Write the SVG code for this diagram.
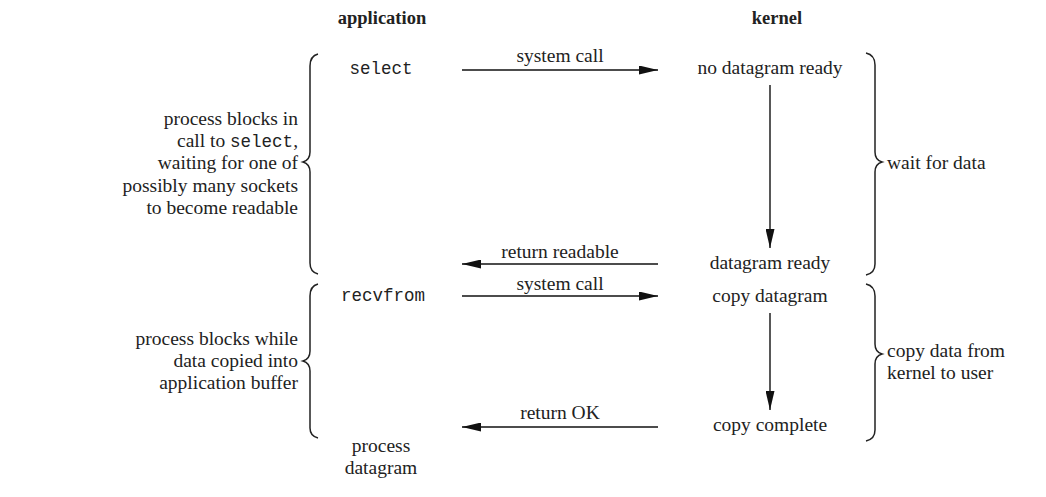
<svg xmlns="http://www.w3.org/2000/svg" width="1046" height="497" viewBox="0 0 1046 497">
<style>
text{font-family:"Liberation Serif","DejaVu Serif",serif;font-size:19.5px;fill:#222;}
.b{font-weight:bold;font-size:18.5px;}
.m{font-family:"Liberation Mono",monospace;font-size:17.5px;}
.r{text-anchor:end;}
.c{text-anchor:middle;}
.ln{stroke:#111;stroke-width:1.4;fill:none;}
.br{stroke:#222;stroke-width:1.5;fill:none;}
</style>
<defs>
<marker id="ah" markerWidth="19" markerHeight="9" refX="19" refY="4.5" orient="auto" markerUnits="userSpaceOnUse">
<path d="M0,0 L19,4.5 L0,9 Z" fill="#111"/>
</marker>
</defs>
<rect width="1046" height="497" fill="#fff"/>
<g id="headers">
<text class="b c" x="382" y="24">application</text>
<text class="b c" x="777" y="24">kernel</text>
</g>
<g id="select"><text class="m c" x="381" y="74">select</text></g>
<g id="recvfrom"><text class="m c" x="383" y="301">recvfrom</text></g>
<g id="process-datagram"><text class="c" x="381" y="452">process</text><text class="c" x="381" y="474">datagram</text></g>
<g id="no-datagram-ready"><text class="c" x="770" y="74">no datagram ready</text></g>
<g id="datagram-ready"><text class="c" x="770" y="269">datagram ready</text></g>
<g id="copy-datagram"><text class="c" x="770" y="302">copy datagram</text></g>
<g id="copy-complete"><text class="c" x="770" y="431">copy complete</text></g>
<g id="left-note-1">
<text class="r" x="298" y="125">process blocks in</text>
<text class="r" x="298" y="147">call to <tspan class="m" font-size="16">select</tspan>,</text>
<text class="r" x="298" y="169">waiting for one of</text>
<text class="r" x="298" y="192">possibly many sockets</text>
<text class="r" x="298" y="214">to become readable</text>
<path class="br" d="M318,54 Q310,56 310,66 L310,152 Q310,160 303,162 Q310,164 310,172 L310,263 Q310,272 318,274"/>
</g>
<g id="left-note-2">
<text class="r" x="298" y="345">process blocks while</text>
<text class="r" x="298" y="367">data copied into</text>
<text class="r" x="298" y="389">application buffer</text>
<path class="br" d="M318,284 Q310,286 310,296 L310,351 Q310,359 303,361 Q310,363 310,371 L310,428 Q310,436 318,438"/>
</g>
<g id="right-note-1">
<text x="887" y="169">wait for data</text>
<path class="br" d="M866,53 Q875,55 875,65 L875,152 Q875,160 882,162 Q875,164 875,172 L875,264 Q875,273 866,275"/>
</g>
<g id="right-note-2">
<text x="887" y="357">copy data from</text>
<text x="887" y="379">kernel to user</text>
<path class="br" d="M866,284 Q875,286 875,296 L875,344 Q875,352 882,354 Q875,356 875,364 L875,430 Q875,439 866,441"/>
</g>
<g id="connectors">
<line class="ln" x1="462" y1="70" x2="658" y2="70" marker-end="url(#ah)"/>
<text class="c" x="560" y="62">system call</text>
<line class="ln" x1="770" y1="85" x2="770" y2="248" marker-end="url(#ah)"/>
<line class="ln" x1="658" y1="264" x2="462" y2="264" marker-end="url(#ah)"/>
<text class="c" x="560" y="258">return readable</text>
<line class="ln" x1="462" y1="296" x2="658" y2="296" marker-end="url(#ah)"/>
<text class="c" x="560" y="290">system call</text>
<line class="ln" x1="770" y1="313" x2="770" y2="410" marker-end="url(#ah)"/>
<line class="ln" x1="658" y1="427" x2="462" y2="427" marker-end="url(#ah)"/>
<text class="c" x="560" y="419">return OK</text>
</g>
</svg>
